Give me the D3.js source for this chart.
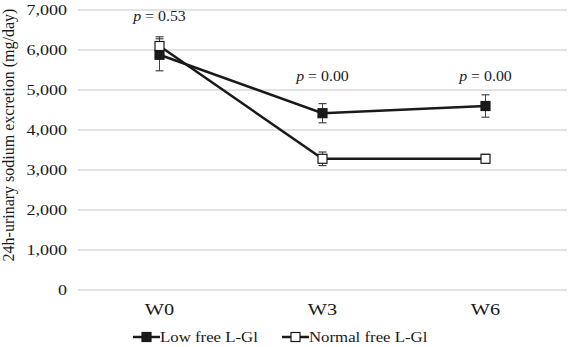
<!DOCTYPE html>
<html>
<head>
<meta charset="utf-8">
<script src="https://cdn.jsdelivr.net/npm/d3@7"></script>
<style>
  body { margin: 0; background: #fff; }
  text { font-family: "Liberation Serif", "DejaVu Serif", serif; fill: #1a1a1a; }
</style>
</head>
<body>
<svg></svg>
<script>
const width = 569;
const height = 347;

// data
const weeks = ['W0', 'W3', 'W6'];
const lowFree = [5880, 4420, 4600];
const lowFreeErr = [400, 240, 280];
const normalFree = [6100, 3280, 3280];
const normalFreeErr = [230, 170, 110];
const pValues = ['0.53', '0.00', '0.00'];
const yTicks = [0, 1000, 2000, 3000, 4000, 5000, 6000, 7000];

const series = [
    { name: 'Low free L-Gl', values: lowFree, err: lowFreeErr, fill: '#1a1a1a' },
    { name: 'Normal free L-Gl', values: normalFree, err: normalFreeErr, fill: '#fff' }
];

const margin = { left: 78, right: 2, top: 10, bottom: 57 };

const svg = d3.select('svg')
    .attr('width', width)
    .attr('height', height);

const x = d3.scaleBand().domain(weeks)
    .range([margin.left, width - margin.right]);
const y = d3.scaleLinear().domain([0, 7000])
    .range([height - margin.bottom, margin.top]);

const cx = d => x(d) + x.bandwidth() / 2;

// the serif text in the original is wide, so text gets a horizontal stretch
const place = (px, py, sx) => `translate(${px},${py}) scale(${sx},1)`;

// gridlines
svg.append('g').selectAll('line')
    .data(yTicks).enter().append('line')
    .attr('x1', margin.left)
    .attr('x2', width - margin.right)
    .attr('y1', d => y(d))
    .attr('y2', d => y(d))
    .attr('stroke', '#d9d9d9')
    .attr('stroke-width', 1.5);

// y tick labels
svg.append('g').selectAll('text')
    .data(yTicks).enter().append('text')
    .attr('transform', d => place(67, y(d), 1.2))
    .attr('dy', '0.35em')
    .attr('text-anchor', 'end')
    .attr('font-size', 15)
    .text(d => d3.format(',')(d));

// y title
svg.append('text')
    .attr('transform', `translate(14, 135) rotate(-90)`)
    .attr('text-anchor', 'middle')
    .attr('font-size', 16)
    .text('24h-urinary sodium excretion (mg/day)');

// x labels
svg.append('g').selectAll('text')
    .data(weeks).enter().append('text')
    .attr('transform', d => place(cx(d), 315, 1.27))
    .attr('text-anchor', 'middle')
    .attr('font-size', 16)
    .text(d => d);

const line = d3.line()
    .x((d, i) => cx(weeks[i]))
    .y(d => y(d));

// lines
series.forEach(s => {
    svg.append('path')
        .datum(s.values)
        .attr('d', line)
        .attr('fill', 'none')
        .attr('stroke', '#1a1a1a')
        .attr('stroke-width', 2.5);
});

// error bars
series.forEach(s => {
    const g = svg.append('g');
    s.values.forEach((v, i) => {
        const px = cx(weeks[i]);
        g.append('line')
            .attr('x1', px).attr('x2', px)
            .attr('y1', y(v - s.err[i])).attr('y2', y(v + s.err[i]))
            .attr('stroke', '#444').attr('stroke-width', 1);
        [v - s.err[i], v + s.err[i]].forEach(e => {
            g.append('line')
                .attr('x1', px - 4).attr('x2', px + 4)
                .attr('y1', y(e)).attr('y2', y(e))
                .attr('stroke', '#444').attr('stroke-width', 1.2);
        });
    });
});

// markers
const ms = 9;
series.forEach(s => {
    svg.append('g').selectAll('rect')
        .data(s.values).enter().append('rect')
        .attr('x', (d, i) => cx(weeks[i]) - ms / 2)
        .attr('y', d => y(d) - ms / 2)
        .attr('width', ms)
        .attr('height', ms)
        .attr('fill', s.fill)
        .attr('stroke', '#1a1a1a')
        .attr('stroke-width', 1.2);
});

// p values
const pY = [y(6800) + 3, y(5300) + 3, y(5300) + 3];
svg.append('g').selectAll('text')
    .data(pValues).enter().append('text')
    .attr('transform', (d, i) => place(cx(weeks[i]), pY[i], 1.06))
    .attr('text-anchor', 'middle')
    .attr('font-size', 15)
    .each(function(d) {
        const t = d3.select(this);
        t.append('tspan').attr('font-style', 'italic').text('p');
        t.append('tspan').text(' = ' + d);
    });

// legend
const legendX = [133, 282];
const legendY = 337;
const lg = svg.append('g').selectAll('g')
    .data(series).enter().append('g')
    .attr('transform', (d, i) => `translate(${legendX[i]}, ${legendY})`);
lg.append('line')
    .attr('x1', 0).attr('x2', 27)
    .attr('stroke', '#1a1a1a').attr('stroke-width', 2.5);
lg.append('rect')
    .attr('x', 13.5 - ms / 2).attr('y', -ms / 2)
    .attr('width', ms).attr('height', ms)
    .attr('fill', d => d.fill)
    .attr('stroke', '#1a1a1a').attr('stroke-width', 1.2);
lg.append('text')
    .attr('transform', place(27, 0, 1.12))
    .attr('dy', '0.35em')
    .attr('font-size', 15)
    .text(d => d.name);
</script>
</body>
</html>
